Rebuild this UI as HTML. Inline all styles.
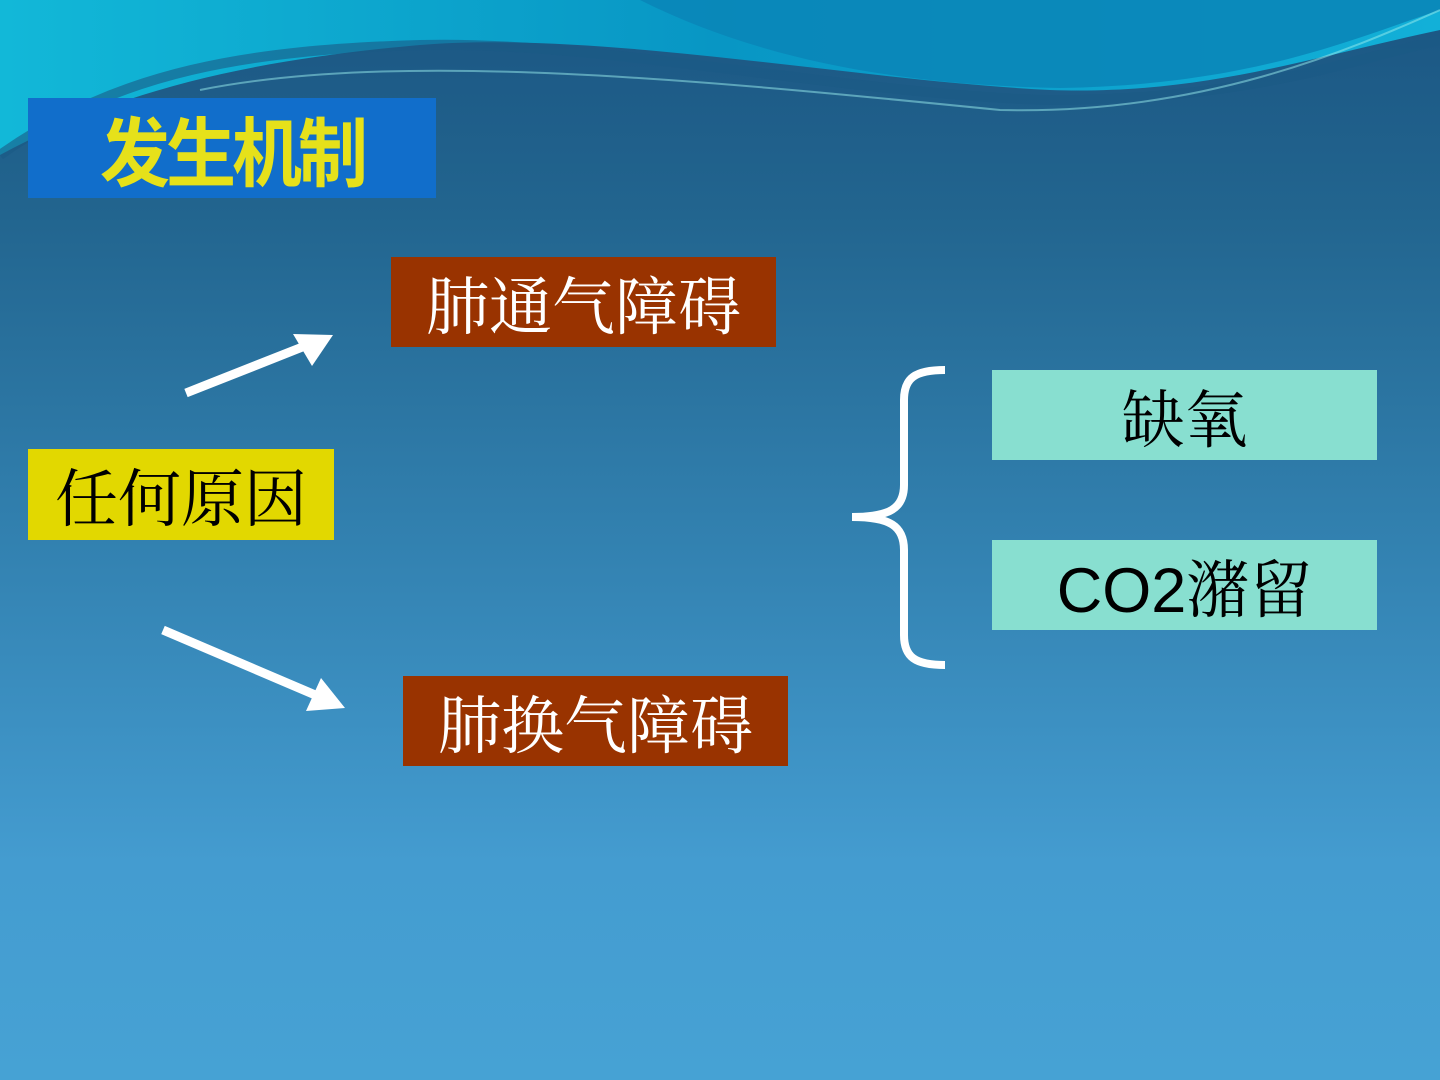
<!DOCTYPE html>
<html><head><meta charset="utf-8"><style>
body{margin:0;width:1440px;height:1080px;overflow:hidden;position:relative;
background:linear-gradient(180deg,#1b5683 0%,#22658f 20%,#3281b0 50%,#449cd0 80%,#46a2d4 100%);
font-family:"Liberation Sans","Noto Serif CJK SC",serif;}
.b{position:absolute;display:flex;align-items:center;justify-content:center;font-size:63px;font-family:"Liberation Sans","Noto Serif CJK SC",serif;}
</style></head><body>
<svg width="1440" height="1080" style="position:absolute;left:0;top:0">
<defs><linearGradient id="g1" x1="0" x2="1"><stop offset="0" stop-color="#12b8d8"/><stop offset="0.5" stop-color="#0896c4"/><stop offset="1" stop-color="#12b0d8"/></linearGradient></defs>
<path d="M0 0 H1440 V30 C1300 60 1200 95 1050 90 C850 80 600 30 420 45 C250 60 120 90 0 155 Z" fill="url(#g1)"/>
<path d="M640 0 C760 60 900 85 1060 88 C1250 85 1350 40 1440 10 V0 Z" fill="#0a86b8" opacity="0.9"/>
<path d="M0 155 C120 70 250 50 420 45 C600 40 850 95 1050 100 C1250 100 1350 60 1440 40" fill="none" stroke="#1b5a85" stroke-width="10" opacity="0.6"/>
<path d="M200 90 C400 50 700 80 1000 110 C1200 115 1350 50 1440 10" fill="none" stroke="#9ee" stroke-width="2" opacity="0.5"/>
<path d="M186 393 L310 344" stroke="#fff" stroke-width="9"/>
<polygon points="333,335 293,334 312,366" fill="#fff"/>
<path d="M163 630 L320 697" stroke="#fff" stroke-width="9"/>
<polygon points="345,708 306,711 321,678" fill="#fff"/>
<path d="M945 370 C915 370 904 378 904 400 L904 485 C904 508 890 517 852 517 C890 517 904 526 904 550 L904 635 C904 657 915 665 945 665" fill="none" stroke="#fff" stroke-width="8"/>
</svg>
<div class="b" style="left:28px;top:98px;width:408px;height:100px;background:#116ecb;color:#e6e11a;font-weight:bold;font-size:70px;font-family:'Liberation Sans','Noto Sans CJK SC',sans-serif;letter-spacing:-4px;"><span style="display:inline-block;transform:scaleY(1.08)">发生机制</span></div>
<div class="b" style="left:391px;top:257px;width:385px;height:90px;background:#993300;color:#fff">肺通气障碍</div>
<div class="b" style="left:28px;top:449px;width:306px;height:91px;background:#e2d800;color:#000">任何原因</div>
<div class="b" style="left:992px;top:370px;width:385px;height:90px;background:#88dfd0;color:#000">缺氧</div>
<div class="b" style="left:992px;top:540px;width:385px;height:90px;background:#88dfd0;color:#000">CO2潴留</div>
<div class="b" style="left:403px;top:676px;width:385px;height:90px;background:#993300;color:#fff">肺换气障碍</div>
</body></html>
